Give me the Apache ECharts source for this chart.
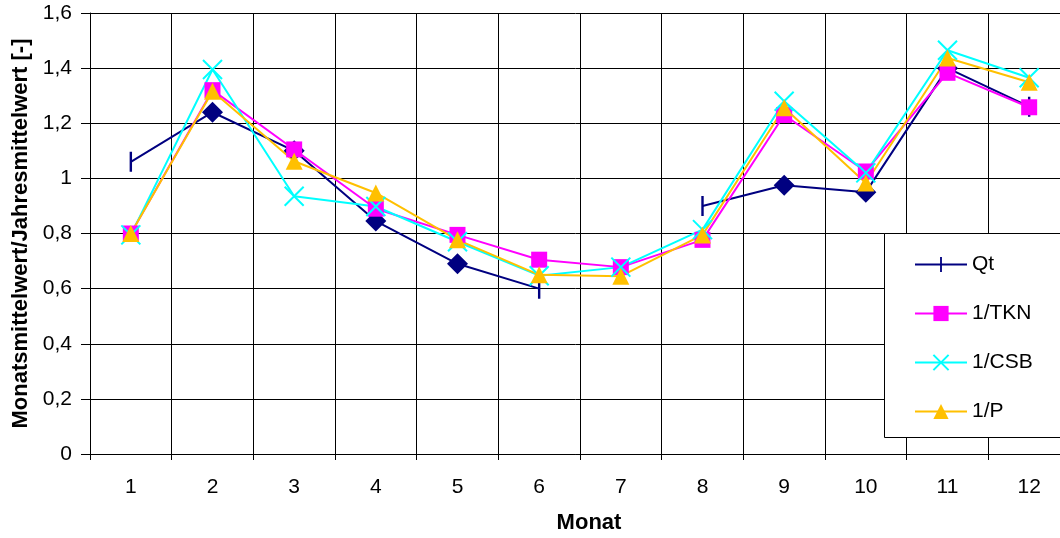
<!DOCTYPE html>
<html>
<head>
<meta charset="utf-8">
<script src="https://cdn.jsdelivr.net/npm/echarts@6/dist/echarts.min.js"></script>
<style>
  html, body { margin: 0; padding: 0; background: #fff; }
  #chart { width: 1060px; height: 538px; }
</style>
</head>
<body>
<div id="chart"></div>
<script>
// Monat 1..12
var months = ['1', '2', '3', '4', '5', '6', '7', '8', '9', '10', '11', '12'];
// Monatsmittelwert / Jahresmittelwert
var qt  = [1.06, 1.24, 1.10, 0.845, 0.69, 0.60, null, 0.90, 0.975, 0.95, 1.40, 1.26];
var tkn = [0.80, 1.32, 1.105, 0.89, 0.795, 0.705, 0.678, 0.777, 1.23, 1.025, 1.383, 1.258];
var csb = [0.795, 1.395, 0.935, 0.898, 0.77, 0.647, 0.678, 0.814, 1.28, 1.02, 1.465, 1.365];
var p   = [0.80, 1.316, 1.062, 0.947, 0.777, 0.65, 0.645, 0.795, 1.256, 0.983, 1.437, 1.349];
var yTicks = [0, 0.2, 0.4, 0.6, 0.8, 1, 1.2, 1.4, 1.6];

var FONT = '"Liberation Sans", Arial, sans-serif';
// vertical dash, padded so the bounding box stays square (legend stretches symbols)
var DASH = 'path://M0,0L0,0.01M10,0L10,0.01M4.4,0L5.6,0L5.6,10L4.4,10Z';
var CROSS = 'path://M0,0L10,10M10,0L0,10';

// Qt: dash at the ends of each run, diamonds inbetween
var qtData = qt.map(function (v, i) {
  if (v == null) return null;
  var prev = i > 0 ? qt[i - 1] : null;
  var next = i < qt.length - 1 ? qt[i + 1] : null;
  if (prev == null || next == null) return v;
  return { value: v, symbol: 'diamond', symbolSize: 21 };
});

function fmt(v) {
  if (Math.abs(v - Math.round(v)) < 1e-9) return String(Math.round(v));
  return v.toFixed(1).replace('.', ',');
}

var chart = echarts.init(document.getElementById('chart'));
chart.setOption({
  animation: false,
  backgroundColor: '#fff',
  textStyle: { fontFamily: FONT },
  grid: { left: 90, top: 13, width: 980, height: 441, containLabel: false, outerBoundsMode: 'none' },
  graphic: [{
    type: 'rect',
    z: 10,
    shape: { x: 884.5, y: 233.5, width: 200, height: 204 },
    style: { fill: '#fff', stroke: '#000', lineWidth: 1 }
  }],
  legend: {
    z: 20,
    orient: 'vertical',
    left: 914,
    top: 254,
    padding: 0,
    itemWidth: 52,
    itemHeight: 19,
    itemGap: 28,
    textStyle: { fontFamily: FONT, fontSize: 21, color: '#000' },
    data: ['Qt', '1/TKN', '1/CSB', '1/P']
  },
  xAxis: {
    type: 'category',
    data: months,
    boundaryGap: true,
    name: 'Monat',
    nameLocation: 'middle',
    nameGap: 58,
    nameTextStyle: { fontFamily: FONT, fontSize: 22, fontWeight: 'bold', color: '#000', padding: [0, 0, 0, 18] },
    axisLine: { lineStyle: { color: '#000', width: 1 } },
    axisTick: { show: true, length: 6, interval: 0, lineStyle: { color: '#000' } },
    axisLabel: { fontFamily: FONT, fontSize: 21, color: '#000', margin: 23, interval: 0 },
    splitLine: { show: true, interval: 0, lineStyle: { color: '#000', width: 1 } }
  },
  yAxis: {
    type: 'value',
    min: yTicks[0],
    max: yTicks[yTicks.length - 1],
    interval: 0.2,
    name: 'Monatsmittelwert/Jahresmittelwert [-]',
    nameLocation: 'middle',
    nameGap: 57,
    nameTextStyle: { fontFamily: FONT, fontSize: 22, fontWeight: 'bold', color: '#000' },
    axisLine: { show: true, lineStyle: { color: '#000', width: 1 } },
    axisTick: { show: true, length: 9, lineStyle: { color: '#000' } },
    axisLabel: { fontFamily: FONT, fontSize: 21, color: '#000', margin: 18, formatter: fmt },
    splitLine: { show: true, lineStyle: { color: '#000', width: 1 } }
  },
  series: [
    {
      name: 'Qt', type: 'line', data: qtData,
      symbol: DASH, symbolSize: 20,
      lineStyle: { color: '#000080', width: 2 },
      itemStyle: { color: '#000080' }
    },
    {
      name: '1/TKN', type: 'line', data: tkn,
      symbol: 'rect', symbolSize: 16,
      lineStyle: { color: '#ff00ff', width: 2 },
      itemStyle: { color: '#ff00ff' }
    },
    {
      name: '1/CSB', type: 'line', data: csb,
      symbol: CROSS, symbolSize: 19,
      lineStyle: { color: '#00ffff', width: 2 },
      itemStyle: { color: '#00ffff', borderColor: '#00ffff', borderWidth: 2 }
    },
    {
      name: '1/P', type: 'line', data: p,
      symbol: 'triangle', symbolSize: 17,
      lineStyle: { color: '#ffc000', width: 2 },
      itemStyle: { color: '#ffc000' }
    }
  ]
});
</script>
</body>
</html>
